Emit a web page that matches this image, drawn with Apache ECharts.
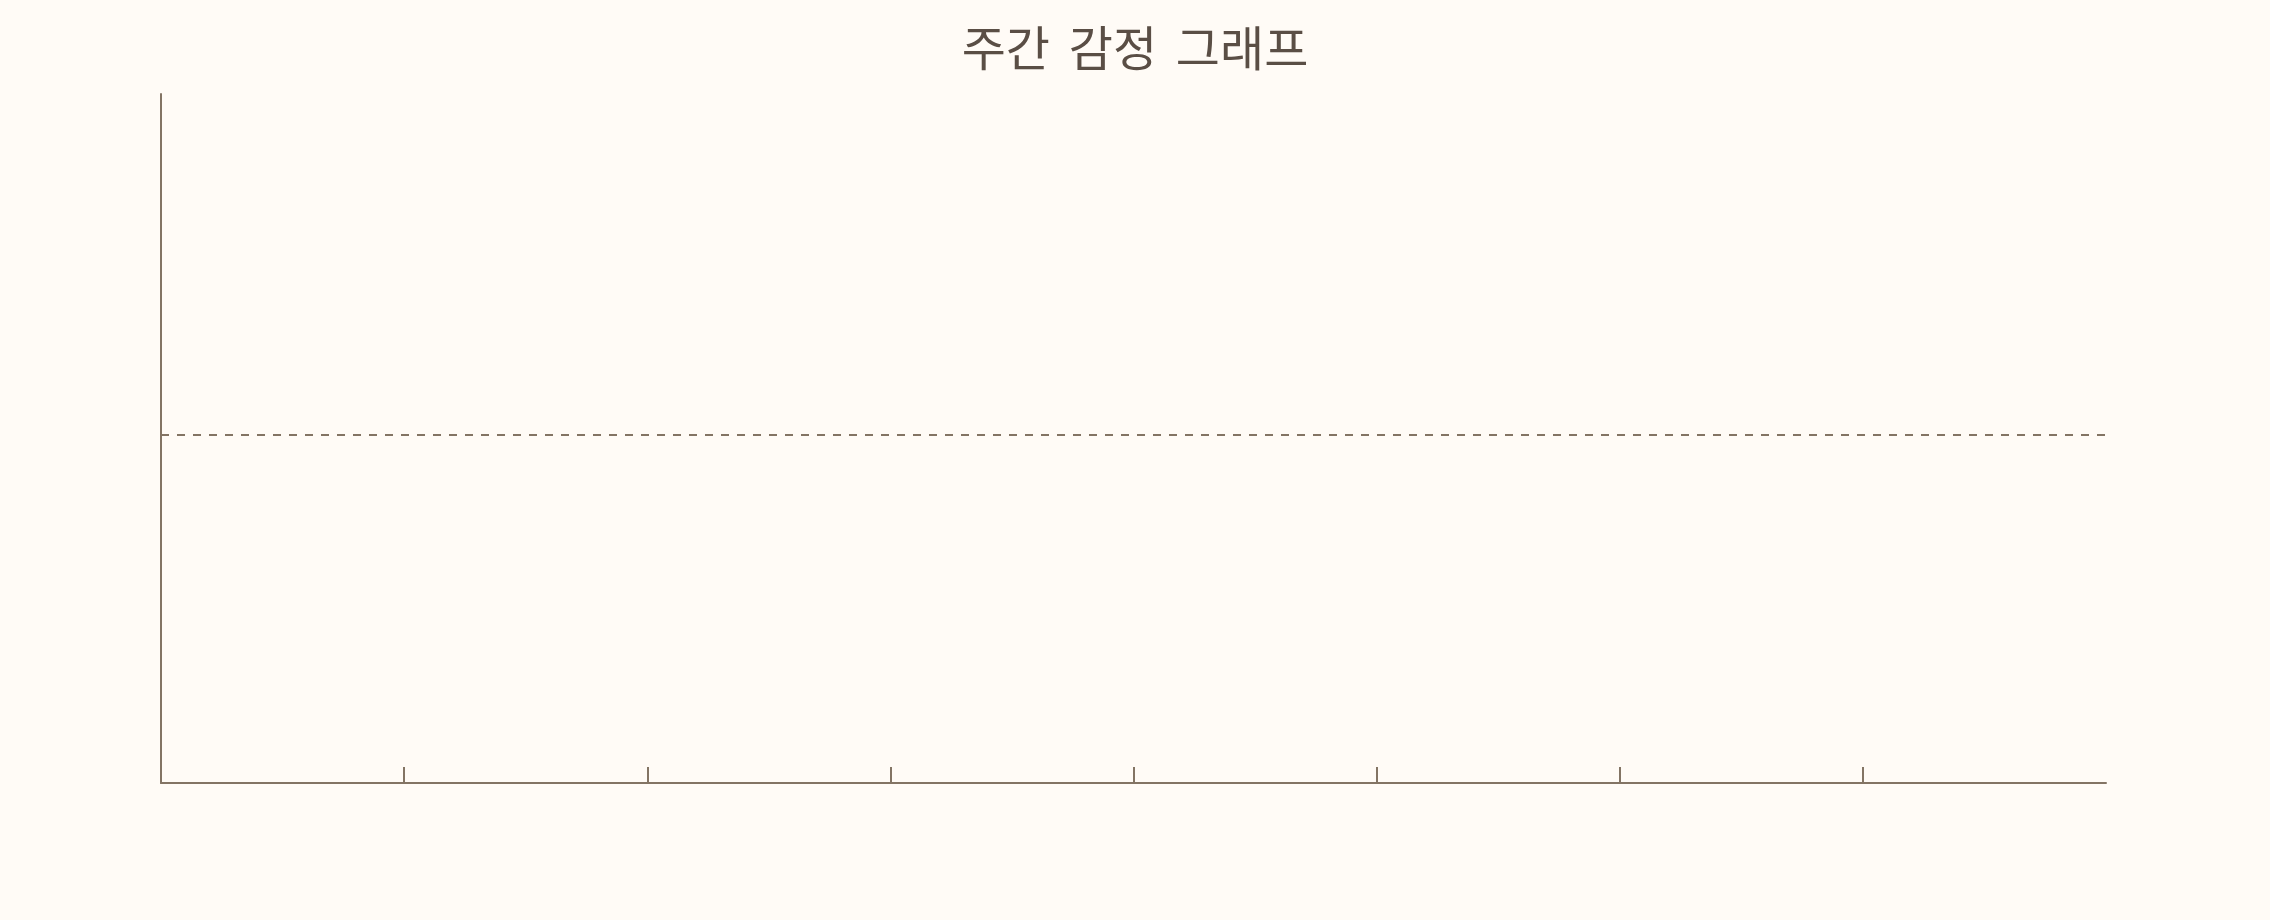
<!DOCTYPE html>
<html>
<head>
<meta charset="utf-8">
<script src="https://cdn.jsdelivr.net/npm/echarts@6/dist/echarts.min.js"></script>
<style>
  html, body { margin: 0; padding: 0; background: #fffbf6; }
  #chart { width: 2270px; height: 920px; }
</style>
</head>
<body>
<div id="chart"></div>
<script>
// ---- data ----
const chartTitle = '주간 \u2006감정 \u2006그래프';
// week slots: padded ends, days at the 7 ticks
const weekSlots = ['', '월', '화', '수', '목', '금', '토', '일', ''];
// no emotion points are drawn in the reference
const emotionScores = [null, null, null, null, null, null, null, null, null];
// y scale (emotion score) and the neutral reference line
const scoreMin = 0;
const scoreMax = 10;
const neutralScore = 5.05;

const axisColor = '#837464';

const chart = echarts.init(document.getElementById('chart'), null, { renderer: 'canvas' });
chart.setOption({
  backgroundColor: '#fffbf6',
  animation: false,
  title: {
    text: chartTitle,
    left: 'center',
    top: 19,
    textStyle: {
      fontFamily: '"Noto Sans CJK KR", "Noto Sans", sans-serif',
      fontSize: 48,
      fontWeight: 'normal',
      color: '#5a4e45'
    }
  },
  grid: { left: 161, right: 164, top: 94, bottom: 137 },
  xAxis: {
    type: 'category',
    data: weekSlots,
    boundaryGap: false,
    axisLine: { show: true, lineStyle: { color: axisColor, width: 2 } },
    axisTick: {
      show: true,
      inside: true,
      length: 16,
      lineStyle: { color: axisColor, width: 2 },
      interval: function (index, value) { return value !== ''; }
    },
    axisLabel: { show: false },
    splitLine: { show: false }
  },
  yAxis: {
    type: 'value',
    min: scoreMin,
    max: scoreMax,
    axisLine: { show: true, lineStyle: { color: axisColor, width: 2 } },
    axisTick: { show: false },
    axisLabel: { show: false },
    splitLine: { show: false }
  },
  series: [{
    name: '감정',
    type: 'line',
    data: emotionScores,
    showSymbol: false,
    lineStyle: { color: axisColor },
    markLine: {
      silent: true,
      symbol: 'none',
      label: { show: false },
      lineStyle: { color: axisColor, type: [8, 8], width: 2 },
      data: [{ yAxis: neutralScore }]
    }
  }]
});
</script>
</body>
</html>
